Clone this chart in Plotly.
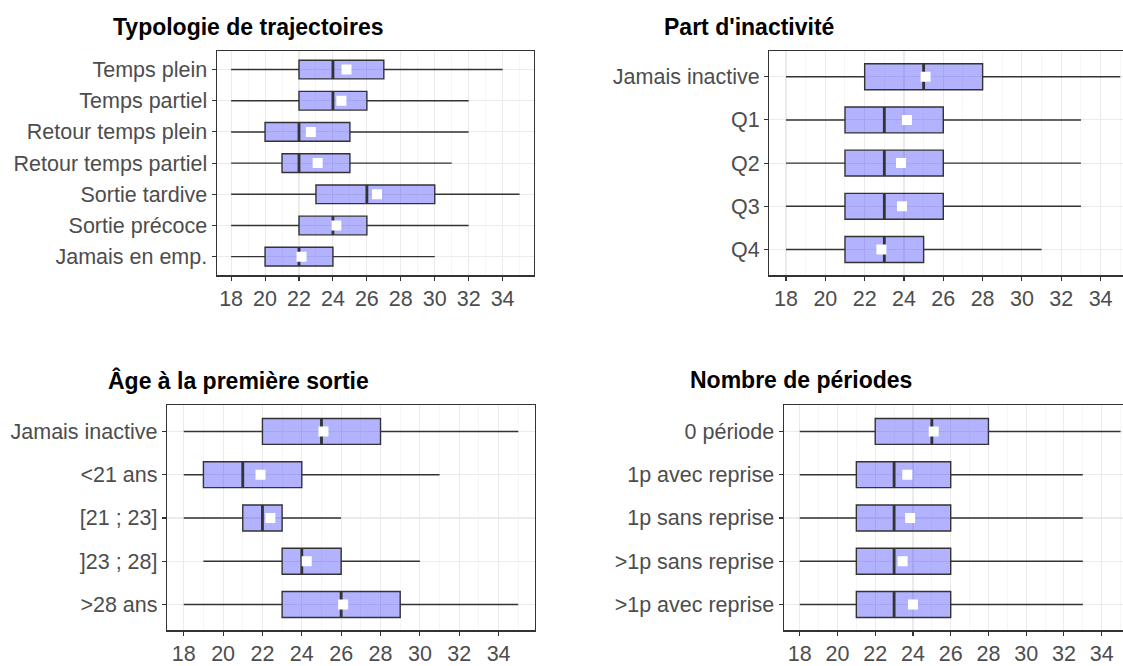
import plotly.graph_objects as go

# ---------------- data ----------------
x_ticks = [18, 20, 22, 24, 26, 28, 30, 32, 34]

p1_title = "Typologie de trajectoires"
p1_cats = ["Temps plein", "Temps partiel", "Retour temps plein", "Retour temps partiel",
           "Sortie tardive", "Sortie précoce", "Jamais en emp."]
p1_low = [18, 18, 18, 18, 18, 18, 18]
p1_q1 = [22, 22, 20, 21, 23, 22, 20]
p1_med = [24, 24, 22, 22, 26, 24, 22]
p1_q3 = [27, 26, 25, 25, 30, 26, 24]
p1_high = [34, 32, 32, 31, 35, 32, 30]
p1_mean = [24.8, 24.5, 22.7, 23.1, 26.6, 24.2, 22.15]

p2_title = "Part d'inactivité"
p2_cats = ["Jamais inactive", "Q1", "Q2", "Q3", "Q4"]
p2_low = [18, 18, 18, 18, 18]
p2_q1 = [22, 21, 21, 21, 21]
p2_med = [25, 23, 23, 23, 23]
p2_q3 = [28, 26, 26, 26, 25]
p2_high = [35, 33, 33, 33, 31]
p2_mean = [25.1, 24.15, 23.85, 23.9, 22.85]

p3_title = "Âge à la première sortie"
p3_cats = ["Jamais inactive", "<21 ans", "[21 ; 23]", "]23 ; 28]", ">28 ans"]
p3_low = [18, 18, 18, 19, 18]
p3_q1 = [22, 19, 21, 23, 23]
p3_med = [25, 21, 22, 24, 26]
p3_q3 = [28, 24, 23, 26, 29]
p3_high = [35, 31, 26, 30, 35]
p3_mean = [25.1, 21.9, 22.4, 24.25, 26.1]

p4_title = "Nombre de périodes"
p4_cats = ["0 période", "1p avec reprise", "1p sans reprise", ">1p sans reprise", ">1p avec reprise"]
p4_low = [18, 18, 18, 18, 18]
p4_q1 = [22, 21, 21, 21, 21]
p4_med = [25, 23, 23, 23, 23]
p4_q3 = [28, 26, 26, 26, 26]
p4_high = [35, 33, 33, 33, 33]
p4_mean = [25.1, 23.7, 23.85, 23.45, 24.0]

# ---------------- layout geometry ----------------
W, H = 1123, 666
panels = [
    dict(title=p1_title, cats=p1_cats, low=p1_low, q1=p1_q1, med=p1_med, q3=p1_q3, high=p1_high, mean=p1_mean,
         px=(216.7, 534.0), py=(51.7, 280.0), xr=[17.15, 35.85], title_xy=(111.0, 27.0), right=False),
    dict(title=p2_title, cats=p2_cats, low=p2_low, q1=p2_q1, med=p2_med, q3=p2_q3, high=p2_high, mean=p2_mean,
         px=(769.3, 1123.0), py=(51.7, 280.0), xr=[17.15, 35.14], title_xy=(662.0, 27.0), right=True),
    dict(title=p3_title, cats=p3_cats, low=p3_low, q1=p3_q1, med=p3_med, q3=p3_q3, high=p3_high, mean=p3_mean,
         px=(167.0, 535.0), py=(412.3, 641.0), xr=[17.15, 35.85], title_xy=(106.0, 386.5), right=False),
    dict(title=p4_title, cats=p4_cats, low=p4_low, q1=p4_q1, med=p4_med, q3=p4_q3, high=p4_high, mean=p4_mean,
         px=(783.7, 1123.0), py=(412.3, 641.0), xr=[17.15, 35.13], title_xy=(688.0, 386.5), right=True),
]

BOX_W = 0.6
LINE = "#333333"
FONT = "Liberation Sans, Arial, Helvetica, sans-serif"
TICKFONT = dict(family=FONT, size=21.5, color="#4D4D4D")

fig = go.Figure()
annotations = []

for i, p in enumerate(panels):
    k = "" if i == 0 else str(i + 1)
    xa, ya = "x" + k, "y" + k
    n = len(p["cats"])
    pos = [n - j for j in range(n)]

    fig.add_trace(go.Box(
        y=pos, orientation="h",
        q1=p["q1"], median=p["med"], q3=p["q3"],
        lowerfence=p["low"], upperfence=p["high"],
        width=BOX_W, whiskerwidth=0,
        fillcolor="rgba(0,0,255,0.30)",
        line=dict(color=LINE, width=1.4),
        boxpoints=False, hoverinfo="skip", showlegend=False,
        xaxis=xa, yaxis=ya,
    ))
    # thicker median segments
    mx, my = [], []
    for m, yy in zip(p["med"], pos):
        mx += [m, m, None]
        my += [yy - BOX_W / 2, yy + BOX_W / 2, None]
    fig.add_trace(go.Scatter(x=mx, y=my, mode="lines", line=dict(color=LINE, width=2.8),
                             hoverinfo="skip", showlegend=False, xaxis=xa, yaxis=ya))
    # mean squares
    fig.add_trace(go.Scatter(x=p["mean"], y=pos, mode="markers",
                             marker=dict(symbol="square", size=10, color="white", line=dict(width=0)),
                             hoverinfo="skip", showlegend=False, xaxis=xa, yaxis=ya))

    x0, x1 = p["px"]
    y0, y1 = p["py"]
    xdom = [x0 / W, min(x1 / W, 1.0)]
    ydom = [1 - y1 / H, 1 - y0 / H]

    fig.layout["xaxis" + k] = dict(
        domain=xdom, anchor=ya, range=p["xr"], tickvals=x_ticks,
        showgrid=True, gridcolor="#EBEBEB", gridwidth=1.1,
        minor=dict(dtick=1, showgrid=True, gridcolor="#F4F4F4", gridwidth=0.8, ticklen=0),
        zeroline=False, showline=True, linecolor=LINE, linewidth=1.2, mirror=True,
        ticks="outside", ticklen=4, tickcolor=LINE, tickwidth=1.1,
        tickfont=TICKFONT, fixedrange=True,
    )
    fig.layout["yaxis" + k] = dict(
        domain=ydom, anchor=xa, range=[0.4, n + 0.6], tickvals=pos, ticktext=p["cats"],
        showgrid=True, gridcolor="#EBEBEB", gridwidth=1.1,
        zeroline=False, showline=True, linecolor=LINE, linewidth=1.2, mirror=not p["right"],
        ticks="outside", ticklen=4, tickcolor=LINE, tickwidth=1.1,
        tickfont=TICKFONT, fixedrange=True,
    )
    tx, ty = p["title_xy"]
    annotations.append(dict(
        text="<b>" + p["title"] + "</b>", xref="paper", yref="paper",
        x=tx / W, y=1 - ty / H, xanchor="left", yanchor="middle", showarrow=False,
        font=dict(family=FONT, size=23, color="black"),
    ))

fig.update_layout(
    width=W, height=H, margin=dict(l=0, r=0, t=0, b=0),
    paper_bgcolor="white", plot_bgcolor="white",
    annotations=annotations, showlegend=False,
)

fig.write_html(
    "out.html",
    config={"displayModeBar": False, "staticPlot": True},
    post_script="document.body.style.margin='0';document.body.style.overflow='hidden';",
)
